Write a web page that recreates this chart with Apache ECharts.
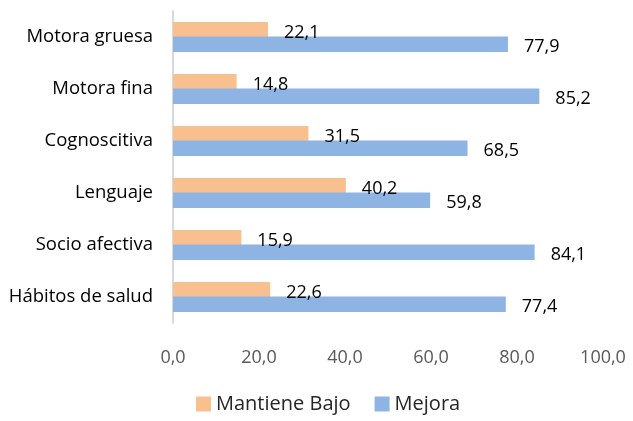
<!DOCTYPE html>
<html>
<head>
<meta charset="utf-8">
<script src="https://cdn.jsdelivr.net/npm/echarts@6/dist/echarts.min.js"></script>
<style>
html,body{margin:0;padding:0;background:#fff;}
#chart{width:633px;height:421px;}
</style>
</head>
<body>
<div id="chart"></div>
<script>
// Áreas del desarrollo evaluadas (de arriba hacia abajo)
const categorias = ['Motora gruesa', 'Motora fina', 'Cognoscitiva', 'Lenguaje', 'Socio afectiva', 'Hábitos de salud'];
// Porcentaje que mantiene nivel bajo
const mantieneBajo = [22.1, 14.8, 31.5, 40.2, 15.9, 22.6];
// Porcentaje que mejora
const mejora = [77.9, 85.2, 68.5, 59.8, 84.1, 77.4];
const nombresSeries = ['Mantiene Bajo', 'Mejora'];

const fuente = '"Open Sans", Lato, sans-serif';
const coma = v => v.toFixed(1).replace('.', ',');

const etiquetaValor = {
  show: true, position: 'right', distance: 16,
  formatter: p => coma(p.value),
  fontSize: 18, color: '#000', offset: [0, 3], fontFamily: fuente
};

const chart = echarts.init(document.getElementById('chart'));
chart.setOption({
  animation: false,
  textStyle: { fontFamily: fuente },
  grid: { left: 173, right: 30, top: 11, height: 312, containLabel: false },
  legend: {
    left: 191, bottom: 2,
    itemWidth: 15, itemHeight: 15, itemGap: 24,
    icon: 'rect',
    textStyle: { fontSize: 20, color: '#262626', fontFamily: fuente },
    data: nombresSeries
  },
  xAxis: {
    type: 'value', min: 0, max: 100, interval: 20,
    axisLine: { show: false }, axisTick: { show: false },
    splitLine: { show: false },
    axisLabel: { formatter: coma, fontSize: 18, color: '#595959', margin: 26, fontFamily: fuente }
  },
  yAxis: {
    type: 'category', inverse: true, data: categorias,
    axisLine: { lineStyle: { color: '#d9d9d9', width: 2 } },
    axisTick: { show: false },
    axisLabel: { fontSize: 18.5, color: '#000', margin: 20, fontFamily: fuente }
  },
  series: [
    {
      name: nombresSeries[0], type: 'bar', data: mantieneBajo,
      barGap: '-6%', barCategoryGap: '42%',
      itemStyle: { color: '#F9C08F' },
      label: etiquetaValor
    },
    {
      name: nombresSeries[1], type: 'bar', data: mejora,
      itemStyle: { color: '#8EB4E3' },
      label: etiquetaValor
    }
  ]
});
</script>
</body>
</html>
